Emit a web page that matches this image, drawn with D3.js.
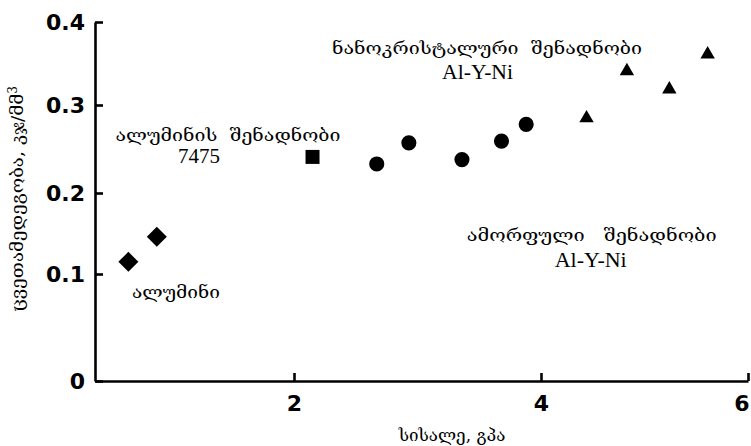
<!DOCTYPE html>
<html>
<head>
<meta charset="utf-8">
<script src="https://cdn.jsdelivr.net/npm/d3@7"></script>
<style>
  body { margin: 0; background: #fff; }
  .axis path, .axis line { stroke: #000; stroke-width: 2.6; }
  .axis text { font-family: "DejaVu Sans", sans-serif; font-weight: bold; font-size: 22px; fill: #000; }
  .geo { font-family: "DejaVu Serif", "DejaVu Sans", serif; fill: #000; white-space: pre; }
  .lat { font-family: "Liberation Serif", "Times New Roman", serif; fill: #000; }
</style>
</head>
<body>
<div id="chart"></div>
<script>
// ticks
var xTicks = [2, 4, 6];
var yTicks = [0, 0.1, 0.2, 0.3, 0.4];

// series values (hardness GPa, wear resistance)
var aluminumX = [0.66, 0.89];
var aluminumY = [0.115, 0.146];
var alloy7475X = [2.15];
var alloy7475Y = [0.241];
var amorphousX = [2.67, 2.93, 3.36, 3.68, 3.88];
var amorphousY = [0.233, 0.257, 0.238, 0.259, 0.278];
var nanoX = [4.44, 4.83, 5.24, 5.61];
var nanoY = [0.285, 0.341, 0.319, 0.361];

var seriesList = [
    {xs: aluminumX, ys: aluminumY, shape: "diamond"},
    {xs: alloy7475X, ys: alloy7475Y, shape: "square"},
    {xs: amorphousX, ys: amorphousY, shape: "circle"},
    {xs: nanoX, ys: nanoY, shape: "triangle"}
];

// labels placed in data coordinates
var notes = [
    {text: "ალუმინი", x: 1.045, y: 0.083, cls: "geo", size: 17, len: 88},
    {text: "ალუმინის  შენადნობი", x: 1.466, y: 0.266, cls: "geo", size: 17, len: 225},
    {text: "7475", x: 1.231, y: 0.242, cls: "lat", size: 20, len: 42},
    {text: "ნანოკრისტალური  შენადნობი", x: 3.563, y: 0.369, cls: "geo", size: 17, len: 310},
    {text: "Al-Y-Ni", x: 3.486, y: 0.340, cls: "lat", size: 20, len: 71},
    {text: "ამორფული   შენადნობი", x: 4.49, y: 0.148, cls: "geo", size: 17, len: 250},
    {text: "Al-Y-Ni", x: 4.48, y: 0.117, cls: "lat", size: 20, len: 72}
];

var width = 751, height = 446;

var svg = d3.select("#chart").append("svg")
    .attr("width", width)
    .attr("height", height);

// the printed axes are not evenly spaced, so piecewise scales
var x = d3.scaleLinear()
    .domain([0.39, 2, 4, 6])
    .range([95, 294, 541, 748]);

var y = d3.scaleLinear()
    .domain([0, 0.1, 0.2, 0.3, 0.4])
    .range([381, 274, 193, 105, 22]);

var xAxis = d3.axisBottom(x)
    .tickValues(xTicks)
    .tickSizeInner(-8)
    .tickSizeOuter(0)
    .tickPadding(14)
    .tickFormat(d3.format("d"));

var yAxis = d3.axisLeft(y)
    .tickValues(yTicks)
    .tickSizeInner(-8)
    .tickSizeOuter(0)
    .tickPadding(10)
    .tickFormat(function(d) { return d === 0 ? "0" : d3.format(".1f")(d); });

var gx = svg.append("g")
    .attr("class", "x axis")
    .attr("transform", "translate(0," + y(0) + ")")
    .call(xAxis);

// last label sits flush with the end of the axis
gx.selectAll(".tick text")
    .filter(function(d) { return d === xTicks[xTicks.length - 1]; })
    .attr("text-anchor", "end")
    .attr("dx", 1);

svg.append("g")
    .attr("class", "y axis")
    .attr("transform", "translate(" + x.range()[0] + ",0)")
    .call(yAxis);

// markers
var symbols = {
    diamond: d3.symbol().type(d3.symbolSquare).size(200),
    square: d3.symbol().type(d3.symbolSquare).size(196),
    circle: d3.symbol().type(d3.symbolCircle).size(180),
    triangle: d3.symbol().type(d3.symbolTriangle).size(90)
};

seriesList.forEach(function(s) {
    var pts = s.xs.map(function(v, i) { return [v, s.ys[i]]; });
    svg.append("g").selectAll("path")
        .data(pts)
        .enter()
        .append("path")
        .attr("d", symbols[s.shape]())
        .attr("fill", "#000")
        .attr("transform", function(d) {
            var t = "translate(" + x(d[0]) + "," + y(d[1]) + ")";
            if (s.shape == "diamond") t += " rotate(45)";
            return t;
        });
});

// annotations
svg.append("g").selectAll("text")
    .data(notes)
    .enter()
    .append("text")
    .attr("class", function(d) { return d.cls; })
    .attr("x", function(d) { return x(d.x); })
    .attr("y", function(d) { return y(d.y); })
    .attr("dy", "0.35em")
    .attr("text-anchor", "middle")
    .attr("textLength", function(d) { return d.len; })
    .attr("lengthAdjust", "spacingAndGlyphs")
    .style("font-size", function(d) { return d.size + "px"; })
    .text(function(d) { return d.text; });

// axis titles
var yTitle = svg.append("text")
    .attr("class", "geo")
    .attr("transform", "translate(23," + 199 + ") rotate(-90)")
    .attr("text-anchor", "middle")
    .style("font-size", "17px");
yTitle.append("tspan").attr("textLength", 218).attr("lengthAdjust", "spacingAndGlyphs")
    .text("ცვეთამედეგობა, კჯ/მმ");
yTitle.append("tspan").attr("dy", "-0.5em").style("font-size", "12px").text("3");

svg.append("text")
    .attr("class", "geo")
    .attr("x", 452)
    .attr("y", 441)
    .attr("text-anchor", "middle")
    .style("font-size", "17px")
    .text("სისალე, გპა");
</script>
</body>
</html>
